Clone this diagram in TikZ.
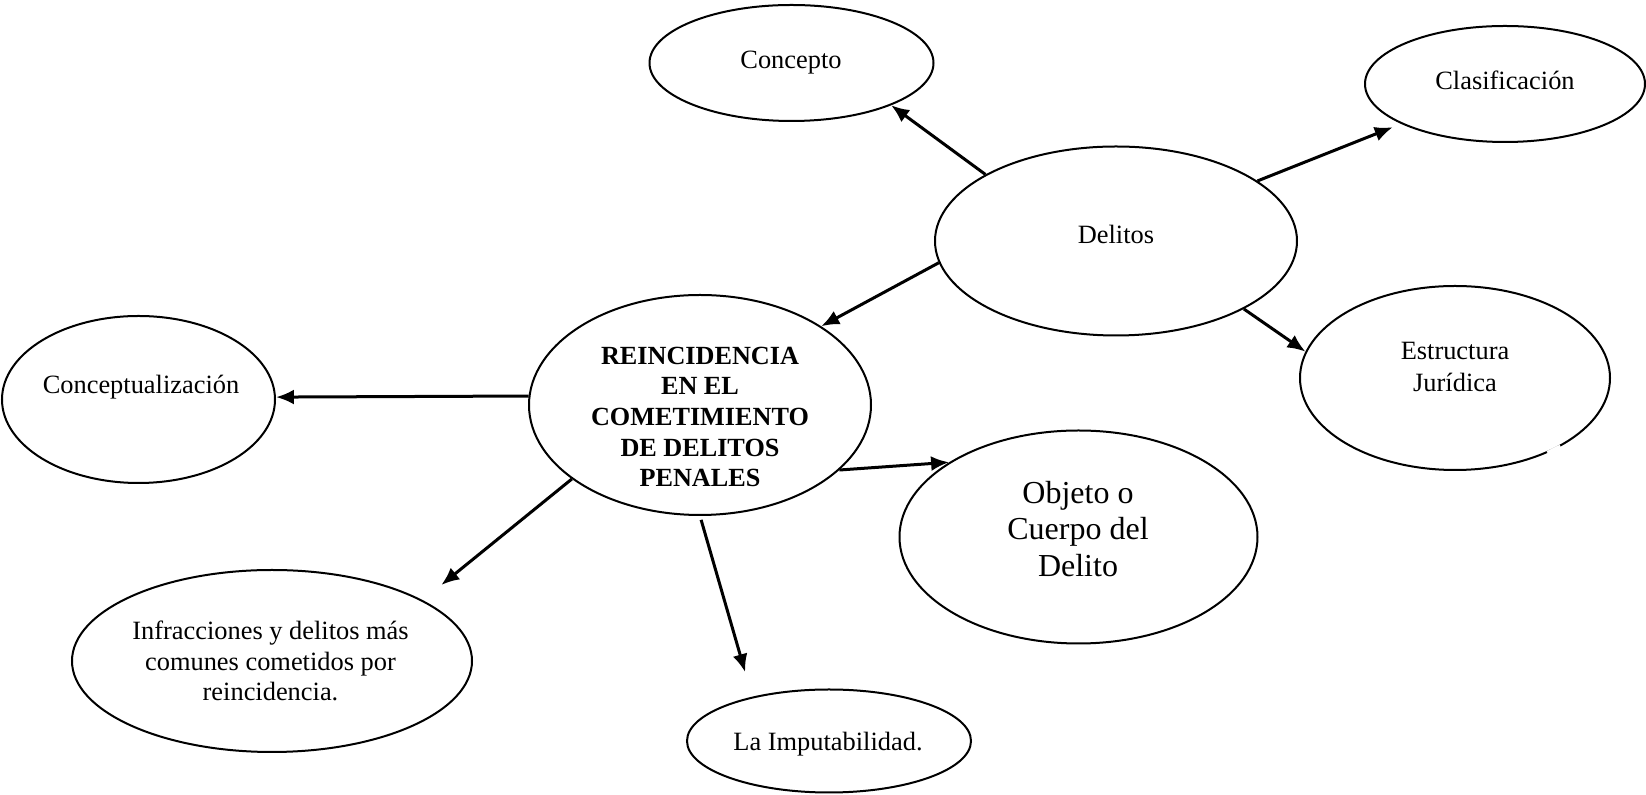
\documentclass[tikz,border=0pt]{standalone}
\usepackage{fontspec}
\setmainfont{Liberation Serif}
\usetikzlibrary{shapes.geometric,arrows.meta}

\tikzset{
	oval/.style={draw, ellipse, line width=1pt, inner sep=0pt},
	txt/.style={align=center, font=\fontsize{13.2}{15.6}\selectfont},
	link/.style={-{Latex[length=9pt,width=7.5pt]}, line width=1.5pt},
}

\begin{document}
\begin{tikzpicture}[x=0.5pt, y=-0.5pt]
\useasboundingbox (0,0) rectangle (1646,795);

% Delitos
\node [oval, minimum width=181pt, minimum height=94.5pt] (delitos) at (1116,241) {};
\node [txt] (delitos-t) at (1116,234) {Delitos};

% Concepto
\node [oval, minimum width=142pt, minimum height=58pt] (concepto) at (791.5,63) {};
\node [txt] (concepto-t) at (791,63) {Concepto};

% Clasificacion
\node [oval, minimum width=140pt, minimum height=58pt] (clasif) at (1505,84) {};
\node [txt] (clasif-t) at (1505,80) {Clasificación};

% Estructura juridica
\node [oval, minimum width=155pt, minimum height=92pt] (estructura) at (1455,378) {};
\node [txt, font=\fontsize{13.2}{15.8}\selectfont] (estructura-t) at (1455,367) {Estructura\\Jurídica};
\draw [white, line width=2pt] (estructura.-39) -- (estructura.-33);

% Reincidencia (tema central)
\node [oval, minimum width=171pt, minimum height=110pt] (reinc) at (700,405) {};
\node [txt, font=\bfseries\fontsize{13.1}{15.3}\selectfont] (reinc-t) at (700,417)
	{REINCIDENCIA\\EN EL\\COMETIMIENTO\\DE DELITOS\\PENALES};

% Conceptualizacion
\node [oval, minimum width=136.5pt, minimum height=83.5pt] (conceptual) at (138.5,399.5) {};
\node [txt] (conceptual-t) at (141,387) {Conceptualización};

% Objeto o cuerpo del delito
\node [oval, minimum width=179pt, minimum height=106.5pt] (objeto) at (1078.5,537) {};
\node [txt, font=\fontsize{16}{18.4}\selectfont] (objeto-t) at (1078,529) {Objeto o\\Cuerpo del\\Delito};

% Infracciones
\node [oval, minimum width=200pt, minimum height=91pt] (infrac) at (272,661) {};
\node [txt, font=\fontsize{13.2}{15.3}\selectfont] (infrac-t) at (270.5,661)
	{Infracciones y delitos más\\comunes cometidos por\\reincidencia.};

% Imputabilidad
\node [oval, minimum width=142pt, minimum height=51.5pt] (imput) at (829,741) {};
\node [txt] (imput-t) at (828,744) {La Imputabilidad.};

% Arrows
\draw [link] (delitos.153) -- (concepto.337);
\draw [link, shorten >=4.5pt] (delitos.23) -- (clasif.201.4);
\draw [link] (delitos.187) -- (reinc.33);
\draw [link] (delitos.332) -- (estructura.170.5);
\draw [link] (reinc.177) -- (conceptual.1);
\draw [link] (reinc.335) -- (objeto.150);
\draw [link, shorten >=12pt] (reinc.210) -- (infrac.22);
\draw [link, shorten <=2pt, shorten >=12.8pt] (reinc.270) -- (imput.150.6);

\end{tikzpicture}
\end{document}
